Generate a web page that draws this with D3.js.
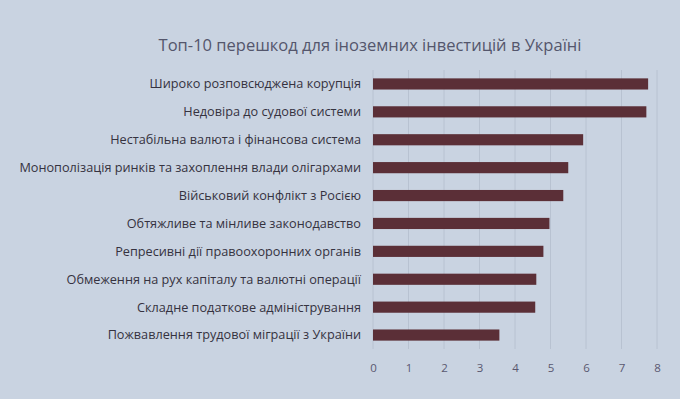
<!DOCTYPE html>
<html>
<head>
<meta charset="utf-8">
<script src="https://cdn.jsdelivr.net/npm/d3@7"></script>
<style>
  body { margin: 0; background: #c9d3e1; }
  svg { display: block; }
</style>
</head>
<body>
<svg id="chart"></svg>
<script>
const categories = [
  "Широко розповсюджена корупція",
  "Недовіра до судової системи",
  "Нестабільна валюта і фінансова система",
  "Монополізація ринків та захоплення влади олігархами",
  "Військовий конфлікт з Росією",
  "Обтяжливе та мінливе законодавство",
  "Репресивні дії правоохоронних органів",
  "Обмеження на рух капіталу та валютні операції",
  "Складне податкове адміністрування",
  "Пожвавлення трудової міграції з України"
];
const values = [7.75, 7.7, 5.92, 5.5, 5.36, 4.97, 4.8, 4.6, 4.57, 3.56];
const ticks = [0, 1, 2, 3, 4, 5, 6, 7, 8];

const width = 680, height = 399;
const margin = {left: 373, right: 23, top: 70, bottom: 50};

const svg = d3.select("#chart").attr("width", width).attr("height", height);

svg.append("rect").attr("width", width).attr("height", height).attr("fill", "#c9d3e1");

svg.append("text")
  .attr("x", 370).attr("y", 51)
  .attr("text-anchor", "middle")
  .attr("font-family", "Open Sans, sans-serif")
  .attr("font-size", 16.5)
  .attr("fill", "#54566c")
  .text("Топ-10 перешкод для іноземних інвестицій в Україні");

const x = d3.scaleLinear().domain([0, 8]).range([margin.left, margin.left + 284]);
const y = d3.scaleBand().domain(categories).range([margin.top, height - margin.bottom]).paddingInner(0.6).paddingOuter(0.3);

// gridlines
svg.append("g").selectAll("line")
  .data(ticks).enter()
  .append("line")
  .attr("x1", d => x(d)).attr("x2", d => x(d))
  .attr("y1", margin.top).attr("y2", height - margin.bottom)
  .attr("stroke", "#b8c2d1").attr("stroke-width", 1);

svg.append("g").selectAll("rect")
  .data(values).enter()
  .append("rect")
  .attr("x", x(0))
  .attr("y", (d, i) => y(categories[i]))
  .attr("width", d => x(d) - x(0))
  .attr("height", y.bandwidth())
  .attr("fill", "#5b2f37");

svg.append("g").selectAll("text")
  .data(categories).enter()
  .append("text")
  .attr("x", 361)
  .attr("y", d => y(d) + y.bandwidth() / 2)
  .attr("dy", "0.35em")
  .attr("text-anchor", "end")
  .attr("font-family", "Open Sans, sans-serif")
  .attr("font-size", 12.7)
  .attr("fill", "#35323f")
  .text(d => d);

const xAxis = svg.append("g")
  .attr("transform", `translate(0, ${height - margin.bottom})`)
  .call(d3.axisBottom(x).tickValues(ticks).tickSize(0).tickPadding(15));
xAxis.select(".domain").remove();
xAxis.selectAll("text")
  .attr("font-family", "Open Sans, sans-serif")
  .attr("font-size", 11.5)
  .attr("fill", "#5a5870");
</script>
</body>
</html>
